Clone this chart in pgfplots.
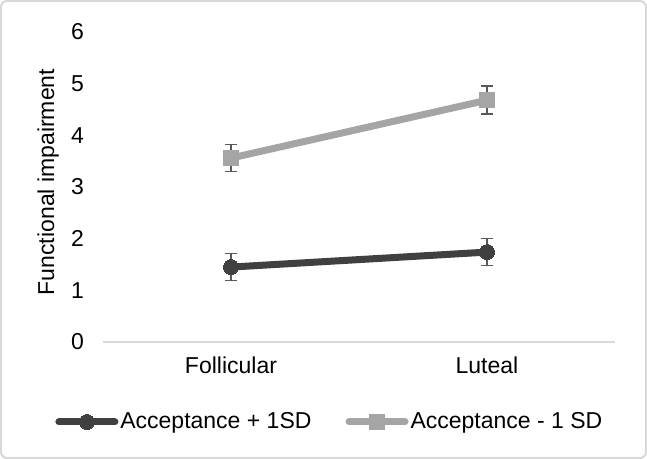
\documentclass[border=0pt]{standalone}
\usepackage{fontspec}
\setmainfont{Liberation Sans}
\usepackage{pgfplots}
\pgfplotsset{compat=1.18}
\definecolor{darkser}{HTML}{404040}
\definecolor{lightser}{HTML}{A5A5A5}
\definecolor{errc}{HTML}{595959}
\definecolor{axc}{HTML}{D9D9D9}
\begin{document}
\begin{tikzpicture}[x=1pt,y=1pt]
\draw[axc, line width=1pt, rounded corners=3pt] (-51,-58) rectangle (271.5,170.5);
\begin{axis}[
  at={(0,0)}, anchor=south west,
  scale only axis, width=256pt, height=155pt,
  xmin=-0.5, xmax=1.5, ymin=0, ymax=6,
  axis lines*=left,
  x axis line style={draw=axc, line width=0.75pt, -},
  y axis line style={draw=none},
  major tick length=0pt,
  xtick={0,1}, xticklabels={Follicular,Luteal},
  ytick={0,1,2,3,4,5,6},
  /pgf/number format/assume math mode=true,
  tick label style={font=\fontsize{11.5}{14}\selectfont, text=black},
  yticklabel style={anchor=east, xshift=-6pt},
  xticklabel style={anchor=north, yshift=-4pt},
  ylabel={Functional impairment},
  ylabel style={font=\fontsize{11.5}{14}\selectfont, at={(axis description cs:-0.107,0.516)}, anchor=center},
  legend columns=2,
  legend style={at={(rel axis cs:0.443,-0.258)}, anchor=center, draw=none, fill=none,
    font=\fontsize{11.5}{14}\selectfont,
    /tikz/every even column/.append style={column sep=16pt},
    nodes={inner sep=1pt}},
  legend cell align=left,
  legend image code/.code={\draw[#1, mark repeat=2, mark phase=2] plot coordinates {(0pt,0pt) (14pt,0pt) (28pt,0pt)};},
  clip=false,
]
\addplot[darkser, line width=3.5pt, line cap=round, mark=*, mark size=3.75pt, mark options={line width=0pt, fill=darkser},
  error bars/.cd, y dir=both, y explicit,
  error bar style={errc, line width=0.75pt},
  error mark options={errc, line width=0.75pt, mark size=3pt, rotate=90}]
  coordinates {(0,1.45) +- (0,0.26) (1,1.74) +- (0,0.26)};
\addlegendentry{Acceptance + 1SD}
\addplot[lightser, line width=3.5pt, line cap=round, mark=square*, mark size=3.75pt, mark options={line width=0pt, fill=lightser},
  error bars/.cd, y dir=both, y explicit,
  error bar style={errc, line width=0.75pt},
  error mark options={errc, line width=0.75pt, mark size=3pt, rotate=90}]
  coordinates {(0,3.56) +- (0,0.26) (1,4.68) +- (0,0.27)};
\addlegendentry{Acceptance - 1 SD}
\end{axis}
\end{tikzpicture}
\end{document}
